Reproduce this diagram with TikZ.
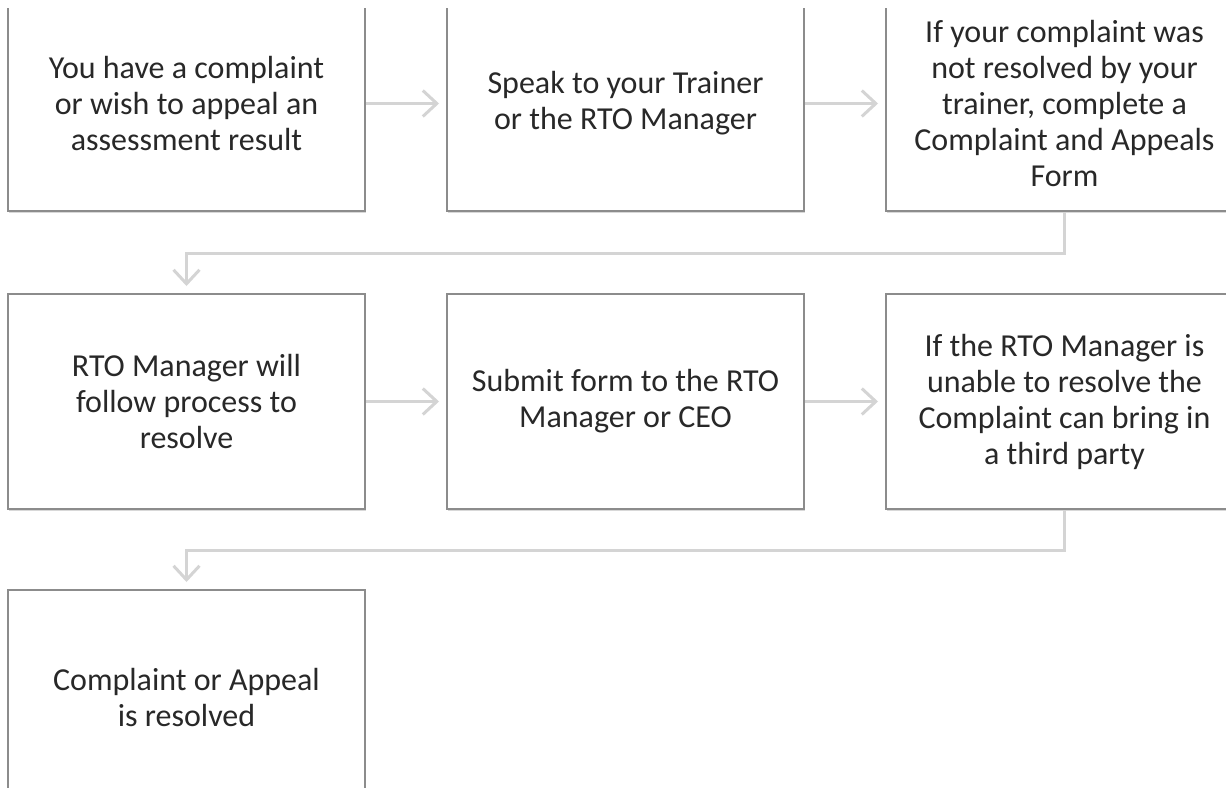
\documentclass[tikz,border=0pt]{standalone}
\usepackage{fontspec}
\setmainfont{Carlito}
\usetikzlibrary{positioning,arrows.meta,shadows}

\definecolor{boxgray}{RGB}{140,140,140}
\definecolor{linegray}{RGB}{212,212,212}
\definecolor{textgray}{RGB}{40,40,40}

\tikzset{
  stepbox/.style={draw=boxgray, line width=1pt, fill=white,
    minimum width=178.5pt, minimum height=107.5pt, inner sep=0pt,
    align=center, text=textgray, font=\fontsize{16}{18}\selectfont,
    drop shadow={shadow xshift=0.3pt, shadow yshift=-0.9pt, fill=black!30, opacity=0.5}},
  conn/.style={draw=linegray, line width=1.5pt,
    -{Straight Barb[length=7pt,width=13pt]}, shorten >=3.5pt}
}

\begin{document}
\begin{tikzpicture}
            \useasboundingbox (0,0) rectangle (613pt,-393.5pt);
            \clip (0,-4pt) rectangle (613pt,-394pt);

            \node[stepbox] at (93.25pt,-51.75pt) (complaint)
            {You have a complaint\\or wish to appeal an\\assessment result};
            \node[stepbox, right=40pt of complaint] (speak)
            {Speak to your Trainer\\or the RTO Manager};
            \node[stepbox, right=40pt of speak] (form)
            {If your complaint was\\not resolved by your\\trainer, complete a\\Complaint and Appeals\\Form};

            \node[stepbox, below=40.5pt of complaint] (process)
            {RTO Manager will\\follow process to\\resolve};
            \node[stepbox, right=40pt of process] (submit)
            {Submit form to the RTO\\Manager or CEO};
            \node[stepbox, right=40pt of submit] (thirdparty)
            {If the RTO Manager is\\unable to resolve the\\Complaint can bring in\\a third party};

            \node[stepbox, below=39.5pt of process] (resolved)
            {Complaint or Appeal\\is resolved};

            \draw[conn] (complaint) -- (speak);
            \draw[conn] (speak) -- (form);
            \draw[conn] (form.south) -- ++(0,-20.5pt) -| (process.north);
            \draw[conn] (process) -- (submit);
            \draw[conn] (submit) -- (thirdparty);
            \draw[conn] (thirdparty.south) -- ++(0,-20pt) -| (resolved.north);
\end{tikzpicture}
\end{document}
